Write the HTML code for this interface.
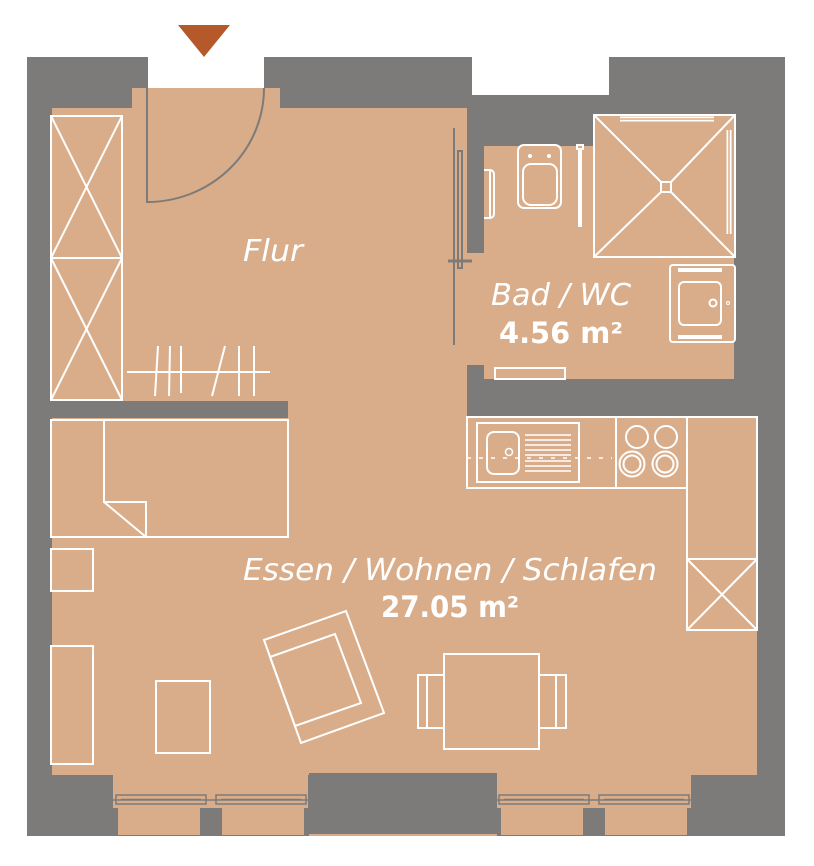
<!DOCTYPE html>
<html><head><meta charset="utf-8"><style>
html,body{margin:0;padding:0;background:#fff;}
svg{display:block}
text{font-family:"DejaVu Sans","Liberation Sans",sans-serif;fill:#fff}
</style></head><body>
<svg width="814" height="866" viewBox="0 0 814 866" xmlns="http://www.w3.org/2000/svg">
<polygon points="178,25 230,25 204,57" fill="#b5592a"/>
<rect x="27" y="57" width="758" height="779" fill="#7d7b79"/>
<rect x="148" y="57" width="116" height="31" fill="#fff"/>
<rect x="472" y="57" width="137" height="38" fill="#fff"/>
<g fill="#d9ad8a">
<rect x="132" y="88" width="148" height="22"/>
<rect x="52" y="108" width="415" height="312"/>
<rect x="52" y="416" width="705" height="359"/>
<rect x="484" y="146" width="250" height="233"/>
<rect x="593" y="115" width="141" height="40"/>
<rect x="466" y="253" width="20" height="112"/>
<rect x="113" y="775" width="195" height="33"/>
<rect x="118" y="808" width="82" height="27"/><rect x="222" y="808" width="82" height="27"/>
<rect x="496" y="775" width="195" height="33"/>
<rect x="501" y="808" width="82" height="27"/><rect x="605" y="808" width="82" height="27"/>
<rect x="309" y="834" width="188" height="2"/>
</g>
<rect x="52" y="401" width="236" height="17" fill="#7d7b79"/>
<rect x="309" y="773" width="188" height="61" fill="#7d7b79"/>
<g fill="none" stroke="#7d7b79" stroke-width="1.5">
<rect x="116" y="795" width="90" height="9"/><rect x="216" y="795" width="90" height="9"/>
<line x1="121" y1="799.5" x2="201" y2="799.5"/><line x1="221" y1="799.5" x2="301" y2="799.5"/>
<rect x="499" y="795" width="90" height="9"/><rect x="599" y="795" width="90" height="9"/>
<line x1="504" y1="799.5" x2="584" y2="799.5"/><line x1="604" y1="799.5" x2="684" y2="799.5"/>
<line x1="113" y1="800" x2="308" y2="800"/><line x1="496" y1="800" x2="691" y2="800"/>
</g>
<path d="M147 88 V202 A117 114 0 0 0 264 88" fill="none" stroke="#7d7b79" stroke-width="2"/>
<g stroke="#7d7b79" stroke-width="2" fill="none">
<line x1="454" y1="128" x2="454" y2="345"/>
<rect x="458" y="151" width="4" height="117"/>
<line x1="448" y1="261" x2="472" y2="261" stroke-width="3"/>
</g>
<g fill="none" stroke="#fff" stroke-width="2">
<rect x="51" y="116" width="71" height="284"/>
<line x1="51" y1="258" x2="122" y2="258"/>
<path d="M51 116 L122 258 M122 116 L51 258 M51 258 L122 400 M122 258 L51 400"/>
<line x1="127" y1="372" x2="270" y2="372"/>
<path d="M158 346 L155 396 M170 346 L169 396 M181 346 L181 393 M225 346 L212 396 M239 346 L239 396 M254 346 L254 396"/>
<rect x="51" y="420" width="237" height="117"/>
<path d="M104 420 V502 H146 V537 M104 502 L146 537"/>
<rect x="51" y="549" width="42" height="42"/>
<rect x="51" y="646" width="42" height="118"/>
<rect x="156" y="681" width="54" height="72"/>
<polygon points="264,640 346,611 384,713 301,743"/>
<polygon points="270,657 335,634 361,703 295,726"/>
<rect x="444" y="654" width="95" height="95"/>
<rect x="418" y="675" width="26" height="53"/><line x1="427" y1="675" x2="427" y2="728"/>
<rect x="539" y="675" width="27" height="53"/><line x1="556" y1="675" x2="556" y2="728"/>
<rect x="467" y="417" width="220" height="71"/>
<line x1="616" y1="417" x2="616" y2="488"/>
<rect x="477" y="423" width="102" height="59"/>
<rect x="487" y="432" width="32" height="42" rx="7"/>
<circle cx="509" cy="452" r="3.5" stroke-width="1.5"/>
<path d="M525 435H571M525 440H571M525 445H571M525 450H571M525 455H571M525 461H571M525 466H571M525 471H571" stroke-width="1.5"/>
<path d="M467 458H612" stroke-width="1.5" stroke-dasharray="4,8"/>
<circle cx="637" cy="437" r="11"/><circle cx="666" cy="437" r="11"/>
<circle cx="632" cy="464" r="12.5"/><circle cx="632" cy="464" r="8.5"/>
<circle cx="665" cy="464" r="12.5"/><circle cx="665" cy="464" r="8.5"/>
<rect x="687" y="417" width="70" height="213"/>
<line x1="687" y1="559" x2="757" y2="559"/>
<path d="M687 559 L757 630 M757 559 L687 630"/>
<rect x="594" y="115" width="141" height="142"/>
<path d="M594 115 L661 182 M735 115 L671 182 M594 257 L661 192 M735 257 L671 192"/>
<rect x="661" y="182" width="10" height="10"/>
<rect x="518" y="145" width="43" height="63" rx="6"/>
<rect x="523" y="164" width="34" height="41" rx="8"/>
<circle cx="530" cy="156" r="1"/><circle cx="549" cy="156" r="1"/>
<path d="M484 170 H490 V218 H484 M490 170 a4 4 0 0 1 4 4 V214 a4 4 0 0 1 -4 4"/>
<rect x="577" y="145" width="6" height="4"/><line x1="580" y1="149" x2="580" y2="227" stroke-width="4"/>
<line x1="620" y1="119" x2="714" y2="119" stroke-width="5"/>
<line x1="619" y1="119" x2="714" y2="119" stroke="#d9ad8a" stroke-width="1.5"/>
<line x1="729" y1="130" x2="729" y2="234" stroke-width="5"/>
<line x1="729" y1="130" x2="729" y2="234" stroke="#d9ad8a" stroke-width="1.5"/>
<rect x="670" y="265" width="65" height="77" rx="3"/>
<rect x="679" y="282" width="42" height="43" rx="5"/>
<circle cx="713" cy="303" r="3.5"/><circle cx="728" cy="303" r="1.5" stroke-width="1"/>
<path d="M678 270 H722 M678 337 H722" stroke-width="4"/>
<rect x="495" y="368" width="70" height="11"/>
</g>
<text x="273" y="261" font-size="30" font-style="italic" text-anchor="middle" textLength="60" lengthAdjust="spacingAndGlyphs">Flur</text>
<text x="561" y="305" font-size="30" font-style="italic" text-anchor="middle" textLength="140" lengthAdjust="spacingAndGlyphs">Bad / WC</text>
<text x="561" y="343" font-size="29" font-weight="bold" text-anchor="middle" textLength="124" lengthAdjust="spacingAndGlyphs">4.56 m²</text>
<text x="450" y="580" font-size="30" font-style="italic" text-anchor="middle" textLength="414" lengthAdjust="spacingAndGlyphs">Essen / Wohnen / Schlafen</text>
<text x="450" y="617" font-size="29" font-weight="bold" text-anchor="middle" textLength="138" lengthAdjust="spacingAndGlyphs">27.05 m²</text>
</svg>
</body></html>
